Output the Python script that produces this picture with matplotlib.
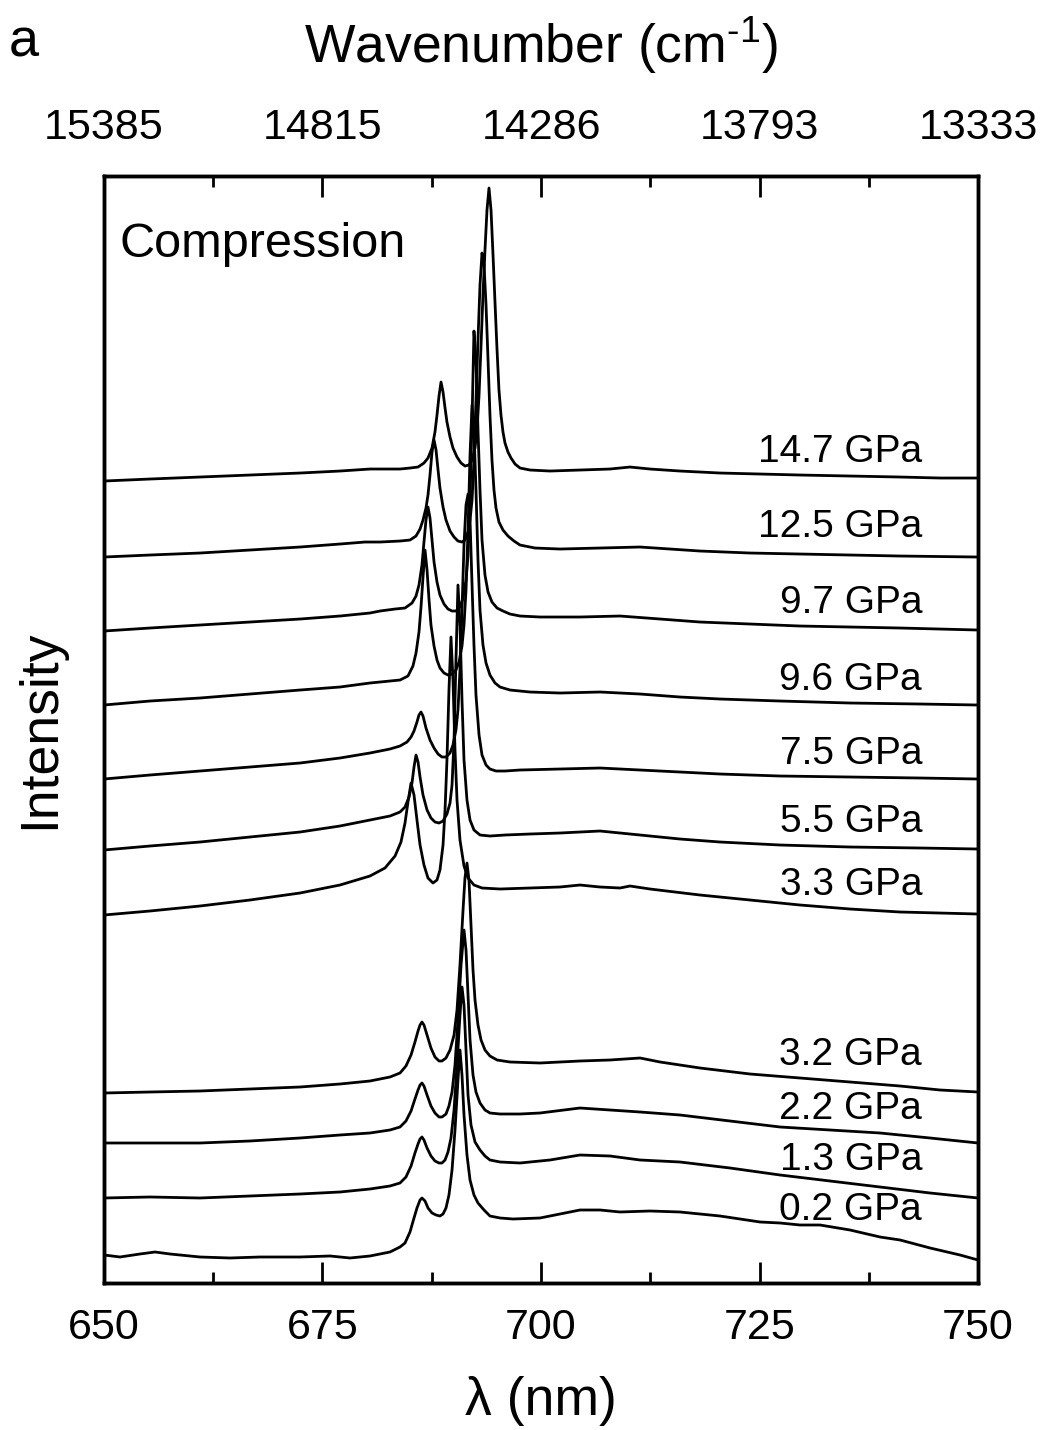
import matplotlib
matplotlib.use("Agg")
import matplotlib.pyplot as plt

plt.rcParams['font.family'] = ['Liberation Sans', 'DejaVu Sans']
plt.rcParams['mathtext.fontset'] = 'custom'
plt.rcParams['mathtext.rm'] = 'Liberation Sans'
plt.rcParams['mathtext.it'] = 'Liberation Sans:italic'

# ---------------------------------------------------------------------------
# Luminescence spectra under compression (stacked, arbitrary intensity units)
# ---------------------------------------------------------------------------
pressures = ["14.7 GPa", "12.5 GPa", "9.7 GPa", "9.6 GPa", "7.5 GPa",
             "5.5 GPa", "3.3 GPa", "3.2 GPa", "2.2 GPa", "1.3 GPa", "0.2 GPa"]

wl_147 = [650.00, 655.26, 660.98, 666.70, 672.43, 677.00, 680.43, 682.15, 683.87, 685.01,
          685.93, 686.61, 687.07, 687.53, 687.87, 688.10, 688.33, 688.56, 688.79, 689.02,
          689.24, 689.59, 689.93, 690.39, 690.85, 691.30, 691.76, 692.11, 692.45, 692.68,
          692.91, 693.14, 693.36, 693.59, 693.82, 694.05, 694.28, 694.51, 694.74, 694.97,
          695.19, 695.42, 695.65, 695.88, 696.22, 696.57, 697.03, 697.60, 698.74, 701.03,
          704.46, 707.89, 710.18, 712.47, 715.90, 720.48, 725.06, 729.63, 735.35, 741.08,
          745.65, 750.00]
int_147 = [802, 804, 806, 808, 810, 812, 814, 814, 814, 815,
           816, 820, 825, 835, 851, 868, 887, 901, 891, 875,
           861, 846, 835, 826, 820, 817, 818, 823, 835, 853,
           888, 938, 988, 1033, 1073, 1095, 1073, 1028, 980, 933,
           893, 868, 851, 840, 831, 825, 819, 815, 813, 812,
           813, 814, 816, 814, 812, 810, 809, 808, 807, 806,
           805, 805]

wl_125 = [650.00, 655.26, 660.98, 666.70, 672.43, 677.00, 679.86, 681.58, 683.87, 685.01,
          685.70, 686.16, 686.50, 686.84, 687.07, 687.30, 687.53, 687.76, 687.99, 688.22,
          688.44, 688.79, 689.13, 689.59, 690.05, 690.50, 690.96, 691.30, 691.65, 691.88,
          692.11, 692.33, 692.56, 692.79, 693.02, 693.25, 693.48, 693.71, 693.94, 694.16,
          694.39, 694.62, 694.85, 695.19, 695.65, 696.22, 696.91, 697.60, 699.31, 702.17,
          706.75, 711.33, 714.76, 718.19, 723.91, 729.63, 735.35, 741.08, 750.00]
int_125 = [726, 728, 730, 733, 736, 739, 741, 741, 742, 743,
           747, 754, 763, 775, 788, 808, 831, 843, 833, 813,
           795, 776, 763, 752, 746, 742, 741, 743, 751, 763,
           783, 823, 883, 943, 998, 1030, 1018, 978, 923, 868,
           823, 793, 775, 761, 753, 747, 742, 738, 735, 734,
           735, 736, 734, 732, 730, 729, 728, 727, 726]

wl_97 = [650.00, 655.26, 660.98, 666.70, 672.43, 677.00, 680.43, 681.58, 683.30, 684.44,
         685.24, 685.70, 686.04, 686.38, 686.61, 686.84, 687.07, 687.30, 687.53, 687.76,
         688.10, 688.44, 688.90, 689.36, 689.82, 690.27, 690.73, 691.08, 691.42, 691.65,
         691.88, 692.11, 692.33, 692.56, 692.79, 693.02, 693.25, 693.59, 693.94, 694.39,
         694.97, 695.65, 696.45, 697.60, 699.89, 704.46, 709.04, 713.62, 718.19, 723.91,
         729.63, 735.35, 741.08, 750.00]
int_97 = [652, 655, 658, 661, 664, 667, 670, 672, 674, 675,
          680, 687, 698, 718, 741, 763, 776, 765, 743, 721,
          701, 688, 679, 674, 672, 672, 676, 685, 703, 728,
          783, 863, 952, 923, 853, 793, 743, 708, 691, 681,
          675, 672, 669, 667, 666, 666, 667, 664, 661, 659,
          657, 656, 655, 653]

wl_96 = [650.00, 655.26, 660.98, 666.70, 672.43, 677.00, 680.43, 682.72, 683.87, 684.78,
         685.35, 685.70, 686.04, 686.27, 686.50, 686.73, 686.96, 687.19, 687.41, 687.76,
         688.10, 688.44, 688.90, 689.36, 689.82, 690.27, 690.62, 690.96, 691.19, 691.42,
         691.65, 691.88, 692.11, 692.33, 692.56, 692.79, 693.02, 693.36, 693.71, 694.16,
         694.74, 695.31, 696.45, 698.74, 702.17, 706.75, 711.33, 715.90, 720.48, 727.35,
         735.35, 743.36, 750.00]
int_96 = [578, 582, 585, 589, 593, 596, 600, 602, 603, 607,
          617, 630, 651, 676, 706, 733, 713, 683, 658, 637,
          623, 615, 610, 608, 609, 613, 621, 637, 658, 693,
          753, 828, 878, 853, 793, 723, 673, 638, 620, 608,
          600, 596, 593, 591, 590, 591, 589, 586, 584, 582,
          580, 579, 578]

wl_75 = [650.00, 655.26, 660.98, 666.70, 672.43, 677.00, 680.43, 682.72, 683.87, 684.67,
         685.13, 685.47, 685.81, 686.04, 686.27, 686.50, 686.84, 687.30, 687.76, 688.22,
         688.67, 689.13, 689.59, 689.93, 690.27, 690.50, 690.73, 690.96, 691.19, 691.42,
         691.65, 691.88, 692.11, 692.33, 692.56, 692.91, 693.25, 693.71, 694.16, 694.85,
         695.88, 697.60, 702.17, 706.75, 711.33, 715.90, 720.48, 727.35, 735.35, 743.36,
         750.00]
int_75 = [504, 508, 512, 516, 520, 525, 530, 534, 537, 541,
          546, 552, 561, 568, 571, 567, 555, 543, 535, 529,
          526, 526, 530, 538, 553, 573, 613, 673, 738, 778,
          789, 763, 698, 638, 588, 548, 528, 518, 514, 512,
          512, 513, 514, 515, 513, 511, 509, 507, 506, 505,
          504]

wl_55 = [650.00, 655.26, 660.98, 666.70, 672.43, 677.00, 680.43, 682.72, 683.87, 684.44,
         684.90, 685.24, 685.47, 685.70, 685.93, 686.16, 686.50, 686.96, 687.41, 687.87,
         688.33, 688.79, 689.24, 689.59, 689.82, 690.05, 690.27, 690.50, 690.73, 690.96,
         691.19, 691.53, 691.88, 692.33, 693.02, 694.16, 695.88, 698.74, 702.17, 706.75,
         711.33, 715.90, 720.48, 727.35, 735.35, 743.36, 750.00]
int_55 = [433, 437, 441, 446, 451, 457, 463, 467, 471, 476,
          486, 500, 516, 528, 521, 506, 488, 473, 465, 461,
          460, 462, 469, 480, 498, 543, 623, 698, 658, 583,
          523, 483, 463, 453, 448, 447, 448, 449, 450, 452,
          448, 444, 441, 438, 436, 435, 434]

wl_33 = [650.00, 655.26, 660.98, 666.70, 672.43, 677.00, 680.43, 682.15, 683.30, 683.98,
         684.44, 684.78, 685.13, 685.47, 685.81, 686.16, 686.61, 687.07, 687.64, 688.10,
         688.44, 688.79, 689.02, 689.24, 689.47, 689.70, 689.93, 690.16, 690.39, 690.73,
         691.19, 691.65, 692.33, 693.25, 695.31, 698.74, 702.17, 704.46, 706.75, 709.04,
         710.18, 712.47, 718.19, 723.91, 729.63, 735.35, 741.08, 750.00]
int_33 = [368, 372, 377, 383, 390, 398, 407, 415, 427, 441,
          460, 481, 500, 488, 463, 438, 418, 405, 400, 403,
          413, 438, 473, 523, 593, 646, 603, 533, 483, 443,
          417, 405, 398, 395, 394, 395, 396, 398, 396, 395,
          397, 394, 388, 383, 378, 374, 371, 369]

wl_32 = [650.00, 655.26, 660.98, 666.70, 672.43, 677.00, 680.43, 682.72, 683.87, 684.55,
         685.13, 685.58, 685.93, 686.16, 686.38, 686.61, 686.96, 687.41, 687.87, 688.33,
         688.67, 689.13, 689.59, 690.05, 690.39, 690.73, 691.08, 691.30, 691.53, 691.76,
         691.99, 692.22, 692.45, 692.79, 693.14, 693.59, 694.16, 694.97, 696.45, 699.89,
         704.46, 707.89, 711.33, 713.62, 718.19, 723.91, 729.63, 735.35, 741.08, 745.65,
         750.00]
int_32 = [190, 191, 192, 194, 196, 199, 202, 206, 210, 217,
          228, 241, 252, 258, 261, 258, 248, 235, 226, 222,
          222, 225, 233, 248, 273, 318, 373, 405, 420, 403,
          358, 313, 283, 258, 243, 233, 227, 223, 221, 220,
          222, 223, 225, 221, 215, 209, 205, 201, 197, 193,
          191]

wl_22 = [650.00, 655.26, 660.98, 666.70, 672.43, 677.00, 680.43, 682.72, 683.87, 684.55,
         685.13, 685.58, 685.93, 686.16, 686.38, 686.61, 686.96, 687.41, 687.87, 688.33,
         688.67, 689.13, 689.47, 689.82, 690.16, 690.50, 690.85, 691.19, 691.42, 691.65,
         691.88, 692.22, 692.56, 693.02, 693.59, 694.16, 695.31, 697.60, 699.89, 704.46,
         707.89, 711.33, 715.90, 721.62, 727.35, 733.07, 738.79, 744.51, 750.00]
int_22 = [140, 140, 140, 142, 145, 148, 150, 153, 156, 162,
          172, 184, 193, 198, 200, 197, 188, 177, 170, 166,
          166, 169, 177, 191, 218, 263, 318, 353, 333, 288,
          243, 208, 191, 180, 173, 170, 169, 169, 170, 175,
          173, 171, 168, 162, 156, 153, 150, 145, 140]

wl_13 = [650.00, 655.26, 660.98, 666.70, 672.43, 677.00, 680.43, 682.72, 683.87, 684.55,
         685.13, 685.58, 685.93, 686.16, 686.38, 686.61, 686.96, 687.41, 687.87, 688.33,
         688.67, 689.02, 689.36, 689.70, 690.05, 690.39, 690.73, 690.96, 691.19, 691.42,
         691.65, 691.99, 692.45, 693.02, 693.59, 694.16, 695.31, 697.60, 701.03, 704.46,
         707.89, 711.33, 715.90, 721.62, 727.35, 733.07, 738.79, 744.51, 750.00]
int_13 = [85, 86, 85, 87, 89, 91, 94, 97, 100, 106,
          117, 130, 139, 144, 146, 143, 135, 127, 122, 120,
          120, 123, 131, 145, 173, 218, 268, 296, 278, 233,
          188, 158, 141, 133, 127, 123, 121, 120, 123, 128,
          127, 123, 121, 115, 108, 102, 96, 90, 85]

wl_02 = [650.00, 651.83, 654.12, 655.84, 657.55, 660.98, 664.42, 667.85, 672.43, 675.86,
         678.15, 680.43, 682.72, 683.87, 684.44, 685.01, 685.47, 685.81, 686.16, 686.38,
         686.73, 687.07, 687.53, 687.99, 688.44, 688.79, 689.13, 689.47, 689.82, 690.16,
         690.50, 690.73, 690.96, 691.19, 691.53, 691.88, 692.33, 692.79, 693.48, 694.16,
         695.31, 696.80, 699.89, 702.17, 704.46, 706.75, 709.04, 712.47, 715.90, 720.48,
         725.06, 727.35, 729.63, 731.92, 735.35, 738.79, 741.08, 744.51, 747.94, 750.00]
int_02 = [28, 26, 29, 31, 29, 26, 25, 26, 26, 27,
          25, 27, 31, 36, 40, 51, 65, 75, 83, 85,
          82, 75, 70, 68, 67, 69, 75, 88, 113, 153,
          203, 233, 208, 168, 128, 103, 88, 80, 73, 67,
          65, 64, 65, 69, 73, 73, 71, 72, 71, 67,
          61, 60, 58, 58, 53, 46, 43, 35, 28, 23]

wavelengths = [wl_147, wl_125, wl_97, wl_96, wl_75, wl_55, wl_33,
               wl_32, wl_22, wl_13, wl_02]
intensities = [int_147, int_125, int_97, int_96, int_75, int_55, int_33,
               int_32, int_22, int_13, int_02]

# axis ticks
lambda_ticks = [650, 675, 700, 725, 750]
lambda_minor = [662.5, 687.5, 712.5, 737.5]
wavenumber_labels = ["15385", "14815", "14286", "13793", "13333"]

# layout of the pressure annotations (height in plot units)
label_x = 743.6
label_y = [831, 756, 680, 603, 529, 461, 398, 228, 174, 123, 73]

fig = plt.figure(figsize=(10.42, 14.30), dpi=100)
ax = fig.add_axes([0.0998, 0.1028, 0.8388, 0.7741])

for wl, inten in zip(wavelengths, intensities):
    ax.plot(wl, inten, color='black', lw=2.0, solid_joinstyle='round')

ax.set_xlim(650, 750)
ax.set_ylim(0, 1107)
ax.set_yticks([])
ax.set_xticks(lambda_ticks)
ax.set_xticks(lambda_minor, minor=True)
ax.tick_params(axis='x', which='major', direction='in', length=15, width=2,
               labelsize=31, pad=18, top=False)
ax.tick_params(axis='x', which='minor', direction='in', length=8, width=2, top=False)
for sp in ax.spines.values():
    sp.set_linewidth(2.5)

ax.set_xlabel(r"λ (nm)", fontsize=38.5, labelpad=20)
ax.set_ylabel("Intensity", fontsize=38.5, labelpad=28)

ax2 = ax.twiny()
ax2.set_xlim(650, 750)
ax2.set_xticks(lambda_ticks)
ax2.set_xticklabels(wavenumber_labels)
ax2.set_xticks(lambda_minor, minor=True)
ax2.tick_params(axis='x', which='major', direction='in', length=15, width=2,
                labelsize=31, pad=20)
ax2.tick_params(axis='x', which='minor', direction='in', length=8, width=2)
ax2.set_xlabel(r"Wavenumber (cm$^{\text{-1}}$)", fontsize=38.5, labelpad=33)
for sp in ax2.spines.values():
    sp.set_linewidth(2.5)

for name, y in zip(pressures, label_y):
    ax.text(label_x, y, name, ha='right', va='center', fontsize=28)

ax.text(0.018, 0.9386, "Compression", transform=ax.transAxes,
        ha='left', va='center', fontsize=35)
fig.text(0.008, 0.988, "a", ha='left', va='top', fontsize=39)

fig.savefig("out.png", dpi=100, facecolor='white')
